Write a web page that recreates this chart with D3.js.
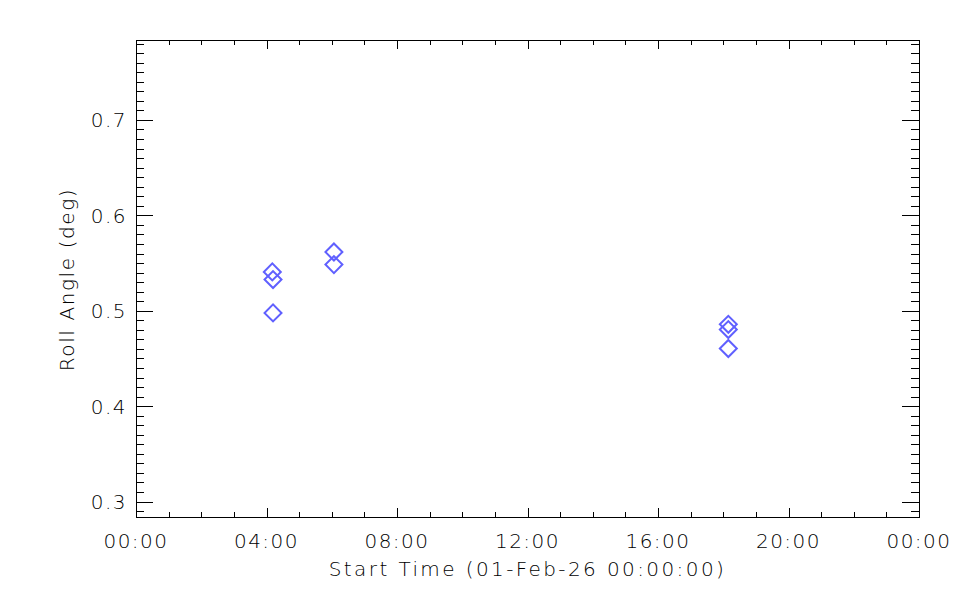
<!DOCTYPE html>
<html><head><meta charset="utf-8">
<script src="https://cdn.jsdelivr.net/npm/d3@7"></script>
<style>body{margin:0;background:#fff}text{font-family:"DejaVu Sans",sans-serif;fill:#000}</style>
</head><body><svg id="c" width="960" height="600"></svg>
<script>
const times = ["04:10:40","04:12:00","04:12:00","06:04:00","06:04:00","18:09:20","18:09:20","18:09:20"];
const rollAngle = [0.5407,0.5327,0.4977,0.5616,0.5484,0.4858,0.4803,0.4604];
const xTickLabels = ["00:00","04:00","08:00","12:00","16:00","20:00","00:00"];
const yTicks = [0.3,0.4,0.5,0.6,0.7];
const yDomain = [0.2838,0.7838];
const xTitle = "Start Time (01-Feb-26 00:00:00)";
const yTitle = "Roll Angle (deg)";

const svg = d3.select("#c");
const L=136,R=919,T=40,B=517;
const parse = s => { const [h,m,sec]=s.split(":").map(Number); return h+m/60+sec/3600; };
const x = d3.scaleLinear().domain([0,24]).range([L,R]);
const y = d3.scaleLinear().domain(yDomain).range([B,T]);

const g = svg.append("g").attr("stroke","#000").attr("stroke-width",1).attr("shape-rendering","crispEdges");
g.append("rect").attr("x",L).attr("y",T).attr("width",R-L).attr("height",B-T).attr("fill","none");
d3.range(0,25).forEach(h=>{
  const major = h%4===0, len = major?9:5;
  const xx = Math.round(x(h))+0.5;
  g.append("line").attr("x1",xx).attr("x2",xx).attr("y1",B).attr("y2",B-len);
  g.append("line").attr("x1",xx).attr("x2",xx).attr("y1",T).attr("y2",T+len);
});
const minor = d3.range(Math.ceil(yDomain[0]*100), Math.floor(yDomain[1]*100)+1).map(v=>v/100);
minor.forEach(v=>{
  const major = Math.abs(v*10-Math.round(v*10))<1e-6, len = major?17:8;
  const yy = Math.round(y(v))+0.5;
  g.append("line").attr("x1",L).attr("x2",L+len).attr("y1",yy).attr("y2",yy);
  g.append("line").attr("x1",R).attr("x2",R-len).attr("y1",yy).attr("y2",yy);
});
const txt = (sel) => sel.attr("font-size",20).attr("font-weight",300);
xTickLabels.forEach((t,i)=>{
  svg.append("text").attr("x",x(i*4)).attr("y",548).attr("text-anchor","middle")
    .attr("letter-spacing",1.5).call(txt).text(t);
});
yTicks.forEach(v=>{
  svg.append("text").attr("x",127).attr("y",y(v)+7.5).attr("text-anchor","end")
    .attr("letter-spacing",1.5).call(txt).text(v.toFixed(1));
});
svg.append("text").attr("x",(L+R)/2).attr("y",576).attr("text-anchor","middle")
  .attr("letter-spacing",2.4).call(txt).text(xTitle);
svg.append("text").attr("transform",`translate(74,${(T+B)/2+1}) rotate(-90)`).attr("text-anchor","middle")
  .attr("letter-spacing",1.6).call(txt).text(yTitle);
const sym = d3.symbol().type(d3.symbolSquare).size(12*12);
svg.append("g").selectAll("path").data(times.map((t,i)=>({t:parse(t),v:rollAngle[i]})))
  .join("path")
  .attr("d",sym)
  .attr("transform",d=>`translate(${x(d.t)},${y(d.v)}) rotate(45)`)
  .attr("fill","none").attr("stroke","#6060ff").attr("stroke-width",2);
</script></body></html>
